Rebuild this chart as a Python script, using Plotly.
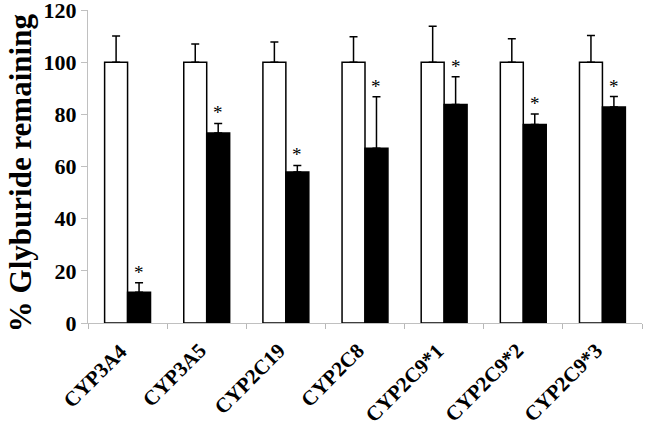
import plotly.graph_objects as go

categories = ["CYP3A4", "CYP3A5", "CYP2C19", "CYP2C8", "CYP2C9*1", "CYP2C9*2", "CYP2C9*3"]
control_values = [100, 100, 100, 100, 100, 100, 100]
control_err = [10, 7, 7.7, 9.7, 13.8, 9, 10.2]
treated_values = [11.8, 72.8, 57.9, 67, 83.8, 76.1, 82.8]
treated_err = [3.6, 3.7, 2.5, 19.7, 10.6, 4, 4]
significance = ["*", "*", "*", "*", "*", "*", "*"]
y_ticks = [0, 20, 40, 60, 80, 100, 120]
y_title = "% Glyburide remaining"

FONT = "Liberation Serif, Times New Roman, serif"
BAR_GAP = 0.42
bar_w = (1 - BAR_GAP) / 2
x_idx = list(range(len(categories)))
boundaries = [i - 0.5 for i in range(len(categories) + 1)]

fig = go.Figure()
fig.add_trace(go.Bar(
    x=x_idx, y=control_values, name="Control",
    marker=dict(color="white", line=dict(color="black", width=1.5)),
    error_y=dict(type="data", symmetric=False, array=control_err,
                 arrayminus=[0] * len(categories), color="black", thickness=1.5, width=4),
))
fig.add_trace(go.Bar(
    x=x_idx, y=treated_values, name="Treated",
    marker=dict(color="black", line=dict(color="black", width=1.5)),
    error_y=dict(type="data", symmetric=False, array=treated_err,
                 arrayminus=[0] * len(categories), color="black", thickness=1.5, width=4),
))

# significance marks above treated bars
for i, v, e, s in zip(x_idx, treated_values, treated_err, significance):
    fig.add_annotation(x=i + bar_w / 2, y=v + e, text=s, showarrow=False,
                       xref="x", yref="y", yanchor="bottom", yshift=-2,
                       font=dict(family=FONT, size=19, color="black"))

# rotated category labels
for i, c in zip(x_idx, categories):
    fig.add_annotation(x=i, y=0, text="<b>%s</b>" % c, showarrow=False,
                       xref="x", yref="paper", xanchor="right", yanchor="top",
                       textangle=-45, xshift=7, yshift=-13,
                       font=dict(family=FONT, size=21, color="black"))

# y-axis title
fig.add_annotation(x=-0.122, y=0.48, text="<b>%s</b>" % y_title, showarrow=False,
                   xref="paper", yref="paper", xanchor="center", yanchor="middle",
                   textangle=-90, font=dict(family=FONT, size=31, color="black"))

fig.update_layout(
    width=647, height=427,
    margin=dict(l=88, r=5, t=10, b=104),
    paper_bgcolor="white", plot_bgcolor="white",
    barmode="group", bargap=BAR_GAP, bargroupgap=0,
    showlegend=False,
    font=dict(family=FONT, color="black"),
    xaxis=dict(
        range=[-0.5, len(categories) - 0.5],
        tickvals=boundaries, showticklabels=False,
        ticks="outside", ticklen=5, tickcolor="#b8b8b8", tickwidth=1,
        showline=True, linecolor="#c0c0c0", linewidth=1,
        showgrid=False, zeroline=False, automargin=False,
    ),
    yaxis=dict(
        range=[0, 120], tickvals=y_ticks, ticktext=[str(t) for t in y_ticks],
        ticks="outside", ticklen=6, tickcolor="#c0c0c0",
        showline=True, linecolor="#c0c0c0", linewidth=1,
        showgrid=False, zeroline=False, automargin=False,
        ticklabeloverflow="allow",
        tickfont=dict(family=FONT, size=22, color="black", weight="bold"),
    ),
)

fig.write_html(
    "out.html",
    config={"responsive": False, "displayModeBar": False},
    post_script="document.body.style.margin='0';document.body.style.overflow='hidden';",
)
